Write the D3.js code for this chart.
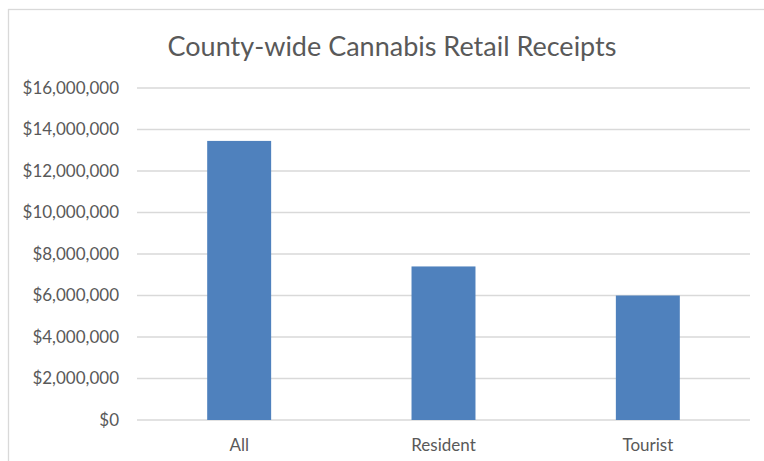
<!DOCTYPE html>
<html lang="en">
<head>
<meta charset="utf-8">
<style>
body {
  margin: 0;
  background: #fff;
  font-family: 'Lato', 'Open Sans', sans-serif;
}
.grid line { stroke: #d9d9d9; stroke-width: 1.3; }
.tick-label { fill: #595959; font-size: 17px; }
.title { fill: #595959; font-size: 27px; }
</style>
<title>County-wide Cannabis Retail Receipts</title>
<script src="https://cdn.jsdelivr.net/npm/d3@7"></script>
</head>
<body>
<div id="chart"></div>
<script>

var categories = ["All", "Resident", "Tourist"];
var receipts = [13450000, 7400000, 6000000];
var yTicks = [0, 2000000, 4000000, 6000000, 8000000, 10000000, 12000000, 14000000, 16000000];

var w = 764,
    h = 461;

var svg = d3.select("#chart")
            .append("svg")
            .attr("width", w)
            .attr("height", h);

// chart frame, only left and top edges show in the crop
svg.append("rect")
   .attr("x", 8.5)
   .attr("y", 9.5)
   .attr("width", 780)
   .attr("height", 480)
   .attr("fill", "#fff")
   .attr("stroke", "#d9d9d9")
   .attr("stroke-width", 1.3);

var x = d3.scaleBand()
          .domain(categories)
          .range([137, 750])
          .padding(0);

var y = d3.scaleLinear()
          .domain([0, 16000000])
          .range([420, 88]);

var fmt = d3.format("$,");

var grid = svg.append("g").attr("class", "grid");
grid.selectAll("line")
    .data(yTicks)
    .enter()
    .append("line")
    .attr("x1", 137)
    .attr("x2", 750)
    .attr("y1", function(d){ return y(d); })
    .attr("y2", function(d){ return y(d); });

svg.append("g")
   .selectAll("text")
   .data(yTicks)
   .enter()
   .append("text")
   .attr("class", "tick-label")
   .attr("x", 119)
   .attr("y", function(d){ return y(d); })
   .attr("dy", "0.35em")
   .style("text-anchor", "end")
   .text(function(d){ return fmt(d); });

var barW = x.bandwidth() * 0.313;

svg.append("g")
   .selectAll("rect")
   .data(receipts)
   .enter()
   .append("rect")
   .attr("x", function(d, i){ return x(categories[i]) + x.bandwidth() / 2 - barW / 2; })
   .attr("y", function(d){ return y(d); })
   .attr("width", barW)
   .attr("height", function(d){ return y(0) - y(d); })
   .attr("fill", "#4f81bd");

svg.append("g")
   .selectAll("text")
   .data(categories)
   .enter()
   .append("text")
   .attr("class", "tick-label")
   .attr("x", function(d){ return x(d) + x.bandwidth() / 2; })
   .attr("y", 451)
   .style("text-anchor", "middle")
   .text(function(d){ return d; });

svg.append("text")
   .attr("class", "title")
   .attr("x", 392)
   .attr("y", 56)
   .style("text-anchor", "middle")
   .text("County-wide Cannabis Retail Receipts");

</script>
</body>
</html>
